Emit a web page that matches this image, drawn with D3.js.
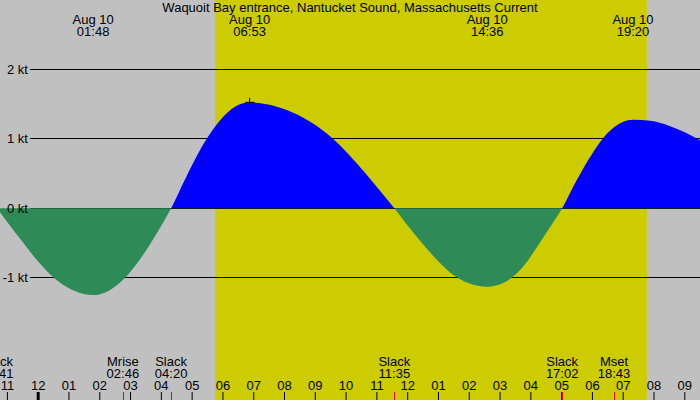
<!DOCTYPE html>
<html><head><meta charset="utf-8">
<script src="https://cdn.jsdelivr.net/npm/d3@7"></script>
<style>
body{margin:0;background:#c0c0c0}
svg{display:block}
text{font-family:"Liberation Sans",Arial,sans-serif;font-size:13px;fill:#000}
</style>
</head><body><svg id="c" width="700" height="400"></svg>
<script>
const title = "Waquoit Bay entrance, Nantucket Sound, Massachusetts Current";
// hours relative to Aug 10 00:00, current in knots (flood +, ebb -)
const flowHours = [-1.317,-1.0,-0.5,0.0,0.5,1.0,1.5,1.80,2.3,2.8,3.3,3.8,4.333,4.8,5.3,5.8,6.3,6.883,7.44,8.09,8.84,9.60,10.36,11.01,11.583,12.0,12.5,13.0,13.5,14.0,14.6,15.1,15.45,15.8,16.26,16.6,17.033,17.5,18.0,18.5,19.0,19.333,19.9,20.5,21.0,21.51];
const flowKnots = [0,-0.19,-0.48,-0.76,-0.99,-1.15,-1.235,-1.25,-1.19,-1.02,-0.75,-0.41,0,0.43,0.86,1.20,1.43,1.527,1.50,1.416,1.25,1.00,0.65,0.31,0,-0.24,-0.51,-0.76,-0.96,-1.08,-1.13,-1.08,-0.98,-0.82,-0.53,-0.30,0,0.40,0.78,1.08,1.244,1.277,1.26,1.19,1.10,0.98];
const speedTicks = [2,1,0,-1];
const speedTickLabels = ["2 kt","1 kt","0 kt","-1 kt"];
const peakDates = ["Aug 10","Aug 10","Aug 10","Aug 10"];
const peakTimes = ["01:48","06:53","14:36","19:20"];
const eventNames = ["Slack","Mrise","Slack","Slack","Slack","Mset"];
const eventTimes = ["22:41","02:46","04:20","11:35","17:02","18:43"];
const eventDays = [-1,0,0,0,0,0];
const sunTimes = ["05:46","19:47"];
const markerTime = "06:53";
const markerKnots = 1.527;
const viewHours = [-1.224, 21.51];

const W = 700, H = 400;
const base = Date.UTC(2024, 7, 10);
const toDate = h => new Date(base + h * 3600000);
const hm = (s, day = 0) => { const [a, b] = s.split(":").map(Number); return day * 24 + a + b / 60; };

const svg = d3.select("#c");
const x = d3.scaleUtc().domain(viewHours.map(toDate)).range([0, W]);
const y = d3.scaleLinear().domain([0, 2]).range([208.3, 69.5]);
const row = v => Math.floor(y(v)) + 0.5;

// night background + daylight
svg.append("rect").attr("width", W).attr("height", H).attr("fill", "#c0c0c0");
svg.append("rect")
  .attr("x", x(toDate(hm(sunTimes[0])))).attr("y", 0)
  .attr("width", x(toDate(hm(sunTimes[1]))) - x(toDate(hm(sunTimes[0])))).attr("height", H)
  .attr("fill", "#cccc00");

// grid lines
svg.append("g").selectAll("line").data(speedTicks).join("line")
  .attr("x1", 30).attr("x2", W).attr("y1", d => row(d)).attr("y2", d => row(d))
  .attr("stroke", "#000").attr("stroke-width", 1);

// areas
const data = flowHours.map((h, i) => ({ t: toDate(h), v: flowKnots[i] }));
const zeroRow = Math.floor(y(0));
const defs = svg.append("defs");
defs.append("clipPath").attr("id", "pos").append("rect").attr("x", 0).attr("y", 0).attr("width", W).attr("height", zeroRow);
defs.append("clipPath").attr("id", "neg").append("rect").attr("x", 0).attr("y", zeroRow).attr("width", W).attr("height", H - zeroRow);
const area = d3.area().x(d => x(d.t)).y0(y(0)).y1(d => y(d.v)).curve(d3.curveMonotoneX);
svg.append("path").datum(data).attr("d", area).attr("fill", "#0000ff").attr("clip-path", "url(#pos)");
svg.append("path").datum(data).attr("d", area).attr("fill", "#2e8b57").attr("clip-path", "url(#neg)");

// speed labels
svg.append("g").selectAll("text").data(speedTicks).join("text")
  .attr("x", 28).attr("y", d => row(d) + 4.5).attr("text-anchor", "end")
  .text((d, i) => speedTickLabels[i]);

// marker
const mx = x(toDate(hm(markerTime))), my = y(markerKnots);
svg.append("path").attr("d", `M${mx - 4.5},${my}H${mx + 4.5}M${mx},${my - 4.5}V${my + 4.5}`)
  .attr("stroke", "#000").attr("stroke-width", 1);

// title
svg.append("text").attr("x", W / 2).attr("y", 12).attr("text-anchor", "middle").text(title);

// peak labels
const pk = svg.append("g").selectAll("text").data(peakTimes).join("text")
  .attr("text-anchor", "middle");
pk.append("tspan").attr("x", d => x(toDate(hm(d)))).attr("y", 24).text((d, i) => peakDates[i]);
pk.append("tspan").attr("x", d => x(toDate(hm(d)))).attr("y", 36).text(d => d);

// hour axis
const ax = svg.append("g").attr("transform", `translate(0,${H})`)
  .call(d3.axisTop(x).ticks(d3.utcHour.every(1)).tickFormat(d3.utcFormat("%I")).tickSize(8).tickPadding(2));
ax.select(".domain").remove();
ax.attr("font-family", null).attr("font-size", null).style("color", "#000");
ax.selectAll(".tick line").filter(d => d.getUTCHours() === 0).attr("stroke-width", 3);

// events
const ev = eventTimes.map((t, i) => ({ h: hm(t, eventDays[i]), name: eventNames[i], t }));
svg.append("g").selectAll("line").data(ev).join("line")
  .attr("x1", d => Math.round(x(toDate(d.h))) + 0.5).attr("x2", d => Math.round(x(toDate(d.h))) + 0.5)
  .attr("y1", H - 8).attr("y2", H).attr("stroke", "#ff0000");
const et = svg.append("g").selectAll("text").data(ev).join("text").attr("text-anchor", "middle");
et.append("tspan").attr("x", d => x(toDate(d.h))).attr("y", 366).text(d => d.name);
et.append("tspan").attr("x", d => x(toDate(d.h))).attr("y", 378).text(d => d.t);
</script>
</body></html>
